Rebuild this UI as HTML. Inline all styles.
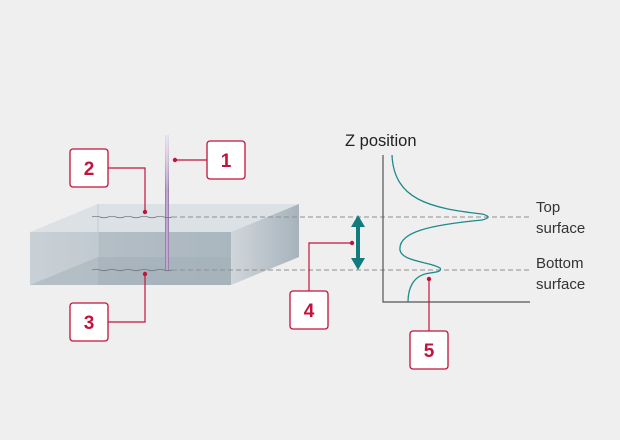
<!DOCTYPE html>
<html><head><style>
html,body{margin:0;padding:0;background:#efefef;}
svg{display:block;}
text{font-family:"Liberation Sans","DejaVu Sans",sans-serif;}
</style></head><body>
<svg width="620" height="440" viewBox="0 0 620 440" xmlns="http://www.w3.org/2000/svg">
<defs>
<linearGradient id="front" x1="0" y1="0" x2="1" y2="0">
<stop offset="0" stop-color="#c9d0d6"/><stop offset="1" stop-color="#b3bec6"/>
</linearGradient>
<linearGradient id="side" x1="0" y1="0" x2="1" y2="0">
<stop offset="0" stop-color="#d0d6db"/><stop offset="1" stop-color="#a7b3bc"/>
</linearGradient>
<linearGradient id="laser" x1="0" y1="0" x2="0" y2="1">
<stop offset="0" stop-color="#c9b6d3" stop-opacity="0.3"/><stop offset="0.4" stop-color="#9c7fb0"/><stop offset="1" stop-color="#9c7fb0"/>
</linearGradient>
</defs>
<rect width="620" height="440" fill="#efefef"/>
<!-- box -->
<polygon points="30,232 98,204 299,204 231,232" fill="#dce1e5"/>
<rect x="30" y="232" width="201" height="53" fill="url(#front)"/>
<polygon points="30,285 98,257 231,257 231,285" fill="#a8b4bd" opacity="0.6"/>
<rect x="98" y="232" width="133" height="53" fill="#9aa8b3" opacity="0.35"/>
<polygon points="231,232 299,204 299,257 231,285" fill="url(#side)"/>
<line x1="98" y1="204" x2="98" y2="257" stroke="#c5ccd2" stroke-width="1"/>
<!-- laser -->
<rect x="165" y="135" width="4" height="135" fill="url(#laser)"/>
<line x1="167" y1="135" x2="167" y2="270" stroke="#f2ecf5" stroke-width="0.8"/>
<!-- wavy surfaces -->
<path d="M92,217 q4,-1.5 8,0 t8,0 t8,0 t8,0 t8,0 t8,0 t8,0 t8,0 t8,0 t8,0" stroke="#6a747c" fill="none" stroke-width="0.8"/>
<path d="M92,270 q4,-1.5 8,0 t8,0 t8,0 t8,0 t8,0 t8,0 t8,0 t8,0 t8,0 t8,0" stroke="#6a747c" fill="none" stroke-width="0.8"/>
<!-- dashed -->
<line x1="172" y1="217" x2="530" y2="217" stroke="#8f8f8f" stroke-dasharray="5,3" stroke-width="1"/>
<line x1="172" y1="270" x2="530" y2="270" stroke="#8f8f8f" stroke-dasharray="5,3" stroke-width="1"/>
<!-- arrow -->
<line x1="358" y1="224" x2="358" y2="262" stroke="#117b7d" stroke-width="4"/>
<polygon points="358,215 351,227 365,227" fill="#117b7d"/>
<polygon points="358,270 351,258 365,258" fill="#117b7d"/>
<!-- axes -->
<polyline points="383,155 383,302 530,302" fill="none" stroke="#555" stroke-width="1.2"/>
<path d="M392,155 C394,200 430,208 482,214 C490,216 490,218 482,220 C430,225 398,232 400,250 C402,262 432,262 440,268 C442,271 438,272 430,273 C412,275 408,290 408,302" fill="none" stroke="#1e8a8c" stroke-width="1.3"/>
<text x="345" y="146" font-size="16.5" fill="#222">Z position</text>
<text x="536" y="212" font-size="15" fill="#333">Top</text>
<text x="536" y="233" font-size="15" fill="#333">surface</text>
<text x="536" y="268" font-size="15" fill="#333">Bottom</text>
<text x="536" y="289" font-size="15" fill="#333">surface</text>
<!-- leaders -->
<g stroke="#c0143c" stroke-width="1.2" fill="none">
<line x1="175" y1="160" x2="207" y2="160"/>
<polyline points="108,168 145,168 145,212"/>
<polyline points="108,322 145,322 145,274"/>
<polyline points="309,291 309,243 352,243"/>
<line x1="429" y1="331" x2="429" y2="279"/>
</g>
<g fill="#c0143c">
<circle cx="175" cy="160" r="2.2"/><circle cx="145" cy="212" r="2.2"/><circle cx="145" cy="274" r="2.2"/>
<circle cx="352" cy="243" r="2.2"/><circle cx="429" cy="279" r="2.2"/>
</g>
<g fill="#fff" stroke="#c0143c" stroke-width="1.3">
<rect x="207" y="141" width="38" height="38" rx="3"/>
<rect x="70" y="149" width="38" height="38" rx="3"/>
<rect x="70" y="303" width="38" height="38" rx="3"/>
<rect x="290" y="291" width="38" height="38" rx="3"/>
<rect x="410" y="331" width="38" height="38" rx="3"/>
</g>
<g fill="#c0143c" font-size="19" font-weight="bold" text-anchor="middle">
<text x="226" y="167">1</text>
<text x="89" y="175">2</text>
<text x="89" y="329">3</text>
<text x="309" y="317">4</text>
<text x="429" y="357">5</text>
</g>
</svg>
</body></html>
